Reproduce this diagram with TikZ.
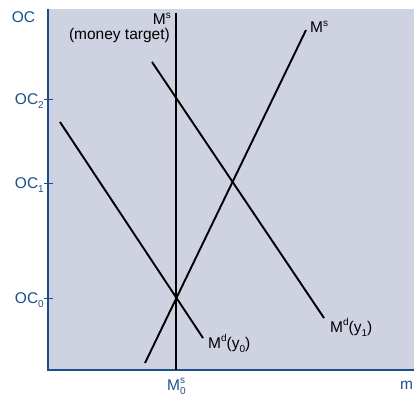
\documentclass[tikz,border=0pt]{standalone}
\usepackage{fontspec}
\setmainfont{Liberation Sans}
\definecolor{panel}{HTML}{CED2E1}
\definecolor{axisblue}{HTML}{1B4F8C}
\newcommand{\lowx}[1]{\raisebox{-0.3em}{\fontsize{10}{11}\selectfont #1}}
\newcommand{\highx}[1]{\raisebox{0.42em}{\fontsize{10}{11}\selectfont #1}}
\begin{document}
\begin{tikzpicture}[x=1pt,y=-1pt,
  curve/.style={line width=1.9pt,black},
  axlab/.style={text=axisblue,inner sep=0pt,font=\fontsize{15.5}{17}\selectfont},
  crvlab/.style={text=black,inner sep=0pt,font=\fontsize{15.5}{17}\selectfont},
  tickline/.style={axisblue,line width=1pt}]
\useasboundingbox (0,0) rectangle (414,396);
\fill[panel] (48,9) rectangle (414,370);
\coordinate (top) at (48,9);
\coordinate (origin) at (48,370);
\coordinate (xend) at (414,370);
\draw[axisblue,line width=1.1pt] (top) -- (origin) -- (xend);
% ticks
\foreach \n/\y in {t2/99,t1/183,t0/298}{
  \coordinate (\n a) at (44,\y);
  \coordinate (\n b) at (53,\y);
  \draw[tickline] (\n a) -- (\n b);
}
\node[axlab,anchor=center] (oc) at (23.5,17) {OC};
\node[axlab,anchor=base east] (oc2) at (44,104) {OC\lowx{2}};
\node[axlab,anchor=base east] (oc1) at (44,188) {OC\lowx{1}};
\node[axlab,anchor=base east] (oc0) at (44,303) {OC\lowx{0}};
\node[axlab,anchor=base west] (ms0) at (167,390) {M\rlap{\highx{s}}\lowx{0}};
\node[axlab,anchor=base west] (mlab) at (400,389) {m};
% curves
\coordinate (vA) at (176,13);
\coordinate (vB) at (176,370);
\draw[curve] (vA) -- (vB);
\coordinate (d1A) at (152,62);
\coordinate (d1B) at (324,318);
\draw[curve] (d1A) -- (d1B);
\coordinate (d0A) at (60,122);
\coordinate (d0B) at (203,338);
\draw[curve] (d0A) -- (d0B);
\coordinate (sA) at (145,363);
\coordinate (sB) at (306,30);
\draw[curve] (sA) -- (sB);
% labels
\node[crvlab,anchor=base east] (msv) at (171,25) {M\highx{s}};
\node[crvlab,anchor=base east] (mt) at (170,40) {(money target)};
\node[crvlab,anchor=base west] (mss) at (310,33) {M\highx{s}};
\node[crvlab,anchor=base west] (md1) at (330,332) {M\highx{d}(y\lowx{1})};
\node[crvlab,anchor=base west] (md0) at (208,348) {M\highx{d}(y\lowx{0})};
\end{tikzpicture}
\end{document}
